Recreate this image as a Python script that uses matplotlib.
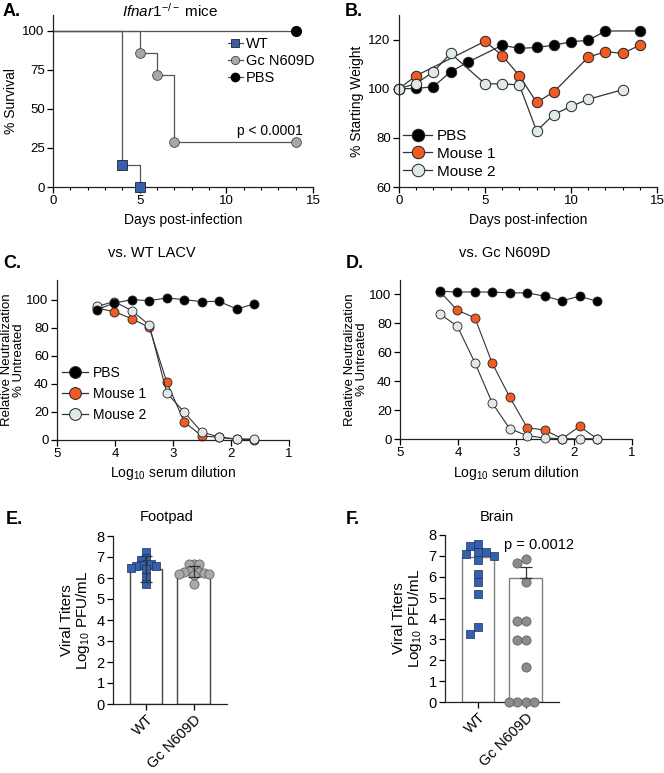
import matplotlib
matplotlib.use("Agg")
import matplotlib.pyplot as plt
from matplotlib.lines import Line2D
import numpy as np

plt.rcParams['font.family'] = ['Liberation Sans', 'DejaVu Sans']
plt.rcParams['mathtext.fontset'] = 'custom'
plt.rcParams['mathtext.rm'] = 'Liberation Sans'
plt.rcParams['mathtext.it'] = 'Liberation Sans:italic'
plt.rcParams['font.size'] = 9.5
plt.rcParams['axes.linewidth'] = 0.9
plt.rcParams['axes.edgecolor'] = '#222222'
plt.rcParams['xtick.major.width'] = 0.9
plt.rcParams['ytick.major.width'] = 0.9
plt.rcParams['xtick.major.size'] = 4
plt.rcParams['ytick.major.size'] = 4

# ---- data ----
# A: survival
surv_days_wt = [0, 4, 5]
surv_wt = [100, 14.3, 0]
surv_days_gc = [0, 5, 6, 7, 14]
surv_gc = [100, 85.7, 71.4, 28.6, 28.6]
surv_days_pbs = [0, 14]
surv_pbs = [100, 100]

# B: weight
weight_days_pbs = [0, 1, 2, 3, 4, 6, 7, 8, 9, 10, 11, 12, 14]
weight_pbs = [100, 100.1, 100.8, 106.9, 110.8, 117.7, 116.4, 116.8, 117.7, 119.1, 119.7, 123.5, 123.5]
weight_days_m1 = [0, 1, 5, 6, 7, 8, 9, 11, 12, 13, 14]
weight_m1 = [100, 105.3, 119.3, 113.5, 105.3, 94.4, 98.7, 112.8, 115.1, 114.4, 117.7]
weight_days_m2 = [0, 1, 2, 3, 5, 6, 7, 8, 9, 10, 11, 13]
weight_m2 = [100, 102.1, 106.9, 114.4, 102, 102, 101.5, 82.8, 89.5, 92.8, 95.7, 99.6]

# C/D: neutralization
dilutions = [20480, 10240, 5120, 2560, 1280, 640, 320, 160, 80, 40]
neut_c_pbs = [92.9, 97.6, 100, 99.3, 101.2, 100, 98.6, 98.8, 93.3, 96.9]
neut_c_m1 = [94, 91.4, 86.4, 80.2, 41.2, 12.9, 2.9, 1.9, 0.5, 0.3]
neut_c_m2 = [95.2, 98.6, 92.1, 81.9, 33.6, 19.8, 5.7, 2.1, 0.7, 0.7]
neut_d_pbs = [102.3, 101.6, 101.8, 101.6, 101.1, 101.1, 98.8, 95.6, 98.8, 95.2]
neut_d_m1 = [102, 89, 83.9, 52.3, 28.9, 7.8, 6.2, 0.2, 8.7, 0.2]
neut_d_m2 = [86.5, 78, 52.8, 24.8, 7.1, 2.3, 0.7, 0.2, 0.2, 0.2]

# E/F: titers
groups = ['WT', 'Gc N609D']
foot_wt = [7.22, 6.97, 6.88, 6.68, 6.65, 6.62, 6.58, 6.55, 6.5, 6.42, 6.05, 5.7]
foot_gc = [6.68, 6.65, 6.66, 6.40, 6.35, 6.30, 6.28, 6.22, 6.20, 6.18, 6.15, 5.72]
foot_bar = [6.45, 6.3]
foot_err = [0.62, 0.25]
brain_wt = [7.08, 7.46, 7.59, 6.99, 7.19, 7.19, 6.78, 6.14, 5.74, 5.15, 3.27, 3.57]
brain_gc = [6.83, 6.64, 5.73, 3.89, 3.89, 2.97, 2.97, 1.69, 0, 0, 0, 0]
brain_bar = [6.95, 5.95]
brain_err = [0.0, 0.52]

BLUE = '#3560ad'
GREY = '#a8a8a8'
DGREY = '#8c8c8c'
ORANGE = '#f15a22'
LIGHT = '#dfe9e9'
EDGE = '#222222'

W, H = 664, 773
fig = plt.figure(figsize=(W / 100, H / 100), dpi=100)


def axes_px(x0, y0, x1, y1):
    return fig.add_axes([x0 / W, 1 - y1 / H, (x1 - x0) / W, (y1 - y0) / H])


def prism(ax):
    ax.spines['top'].set_visible(False)
    ax.spines['right'].set_visible(False)
    ax.tick_params(labelsize=9.5, pad=2)


def swarm(values, center, px_x, px_y, dist):
    # greedy beeswarm in pixel space, offsets closest to the centre first
    order = np.argsort(values)[::-1]
    placed = []
    xs = np.zeros(len(values))
    steps = [0]
    for k in range(1, 16):
        steps += [k * 0.5, -k * 0.5] if k % 2 else [-k * 0.5, k * 0.5]
    for i in order:
        y = values[i] * px_y
        for s in steps:
            x = s * dist
            if all((x - px) ** 2 + (y - py) ** 2 >= dist ** 2 for px, py in placed):
                break
        placed.append((x, y))
        xs[i] = center + x / px_x
    return xs


# ---- A ----
ax = axes_px(53, 15, 313, 187)
prism(ax)
ln = dict(color='#555555', lw=0.9, zorder=1)
ax.step(surv_days_pbs, surv_pbs, where='post', **ln)
ax.step(surv_days_gc, surv_gc, where='post', **ln)
ax.step(surv_days_wt, surv_wt, where='post', **ln)
ax.plot(surv_days_wt[1:], surv_wt[1:], 's', ms=6.5, mfc=BLUE, mec=EDGE, mew=0.6, clip_on=False, zorder=3)
ax.plot(surv_days_gc[1:], surv_gc[1:], 'o', ms=7, mfc=GREY, mec='#444444', mew=0.6, clip_on=False, zorder=3)
ax.plot(surv_days_pbs[1:], surv_pbs[1:], 'o', ms=7, mfc='black', mec='black', clip_on=False, zorder=3)
ax.set_xlim(0, 15)
ax.set_ylim(0, 110)
ax.set_xticks([0, 5, 10, 15])
ax.set_xticks(range(16), minor=True)
ax.tick_params(axis='x', which='minor', length=2.5, width=0.8)
ax.set_yticks([0, 25, 50, 75, 100])
ax.set_xlabel('Days post-infection', fontsize=10, labelpad=4)
ax.set_ylabel('% Survival', fontsize=10, labelpad=3)
ax.text(14.4, 36, 'p < 0.0001', ha='right', va='center', fontsize=10)
fig.text(170 / W, 1 - 11 / H, r'$\it{Ifnar1}^{-/-}$ mice', ha='center', va='center', fontsize=11)
hs = [Line2D([], [], color='#555555', lw=0.9, marker='s', ms=5.5, mfc=BLUE, mec=EDGE, mew=0.6),
      Line2D([], [], color='#555555', lw=0.9, marker='o', ms=6, mfc=GREY, mec='#444444', mew=0.6),
      Line2D([], [], color='#555555', lw=0.9, marker='o', ms=6, mfc='black', mec='black')]
ax.legend(hs, ['WT', 'Gc N609D', 'PBS'], loc='upper left', bbox_to_anchor=(228 / W, 1 - 37 / H),
          bbox_transform=fig.transFigure, frameon=False, fontsize=10.5, handlelength=1.0,
          handletextpad=0.25, labelspacing=0.2, borderpad=0, borderaxespad=0)
fig.text(3 / W, 1 - 11 / H, 'A.', fontsize=13, fontweight='bold', va='center')

# ---- B ----
ax = axes_px(399, 15, 657, 187)
prism(ax)
kw = dict(lw=0.9, color='#333333', ms=7.5, mec=EDGE, mew=0.7, clip_on=False)
ax.plot(weight_days_pbs, weight_pbs, 'o-', mfc='black', **kw)
ax.plot(weight_days_m1, weight_m1, 'o-', mfc=ORANGE, **kw)
ax.plot(weight_days_m2, weight_m2, 'o-', mfc=LIGHT, **kw)
ax.set_xlim(0, 15)
ax.set_ylim(60, 130)
ax.set_xticks([0, 5, 10, 15])
ax.set_xticks(range(16), minor=True)
ax.tick_params(axis='x', which='minor', length=2.5, width=0.8)
ax.set_yticks([60, 80, 100, 120])
ax.set_xlabel('Days post-infection', fontsize=10, labelpad=4)
ax.set_ylabel('% Starting Weight', fontsize=10, labelpad=3)
hs = [Line2D([], [], color='#333333', lw=0.9, marker='o', ms=9, mfc=c, mec=EDGE, mew=0.7)
      for c in ['black', ORANGE, LIGHT]]
ax.legend(hs, ['PBS', 'Mouse 1', 'Mouse 2'], loc='upper left', bbox_to_anchor=(403 / W, 1 - 129 / H),
          bbox_transform=fig.transFigure, frameon=False, fontsize=11, handlelength=1.9,
          handletextpad=0.3, labelspacing=0.25, borderpad=0, borderaxespad=0)
fig.text(345 / W, 1 - 11 / H, 'B.', fontsize=13, fontweight='bold', va='center')

# ---- C & D ----
logdil = np.log10(dilutions)
panels = [((57, 280, 289, 440), 114, neut_c_pbs, neut_c_m1, neut_c_m2, 'vs. WT LACV', 152, 'C.', 3),
          ((400, 280, 632, 439), 110, neut_d_pbs, neut_d_m1, neut_d_m2, 'vs. Gc N609D', 505, 'D.', 346)]
for box, ytop, pbs, m1, m2, title, tx, lab, lx in panels:
    ax = axes_px(*box)
    prism(ax)
    kw = dict(lw=0.8, color='#333333', ms=6.5, mec=EDGE, mew=0.6, clip_on=False)
    ax.plot(logdil, m1, 'o-', mfc=ORANGE, zorder=2, **kw)
    ax.plot(logdil, m2, 'o-', mfc=LIGHT, zorder=3, **kw)
    ax.plot(logdil, pbs, 'o-', mfc='black', zorder=4, **kw)
    ax.set_xlim(5, 1)
    ax.set_ylim(0, ytop)
    ax.set_xticks([5, 4, 3, 2, 1])
    ax.set_yticks([0, 20, 40, 60, 80, 100])
    ax.set_xlabel(r'Log$_{10}$ serum dilution', fontsize=10, labelpad=3)
    ax.set_ylabel('Relative Neutralization\n% Untreated', fontsize=9.5, labelpad=1, linespacing=1.0)
    fig.text(tx / W, 1 - 253 / H, title, ha='center', va='center', fontsize=10.5)
    fig.text(lx / W, 1 - 263 / H, lab, fontsize=13, fontweight='bold', va='center')
    if lab == 'C.':
        hs = [Line2D([], [], color='#333333', lw=0.9, marker='o', ms=8.5, mfc=c, mec=EDGE, mew=0.7)
              for c in ['black', ORANGE, LIGHT]]
        ax.legend(hs, ['PBS', 'Mouse 1', 'Mouse 2'], loc='upper left', bbox_to_anchor=(62 / W, 1 - 366 / H),
                  bbox_transform=fig.transFigure, frameon=False, fontsize=10, handlelength=1.9,
                  handletextpad=0.3, labelspacing=0.5, borderpad=0, borderaxespad=0)

# ---- E & F ----
bar_panels = [((113, 536, 227, 704), foot_wt, foot_gc, foot_bar, foot_err, 'Footpad', 167, 'E.', 6, '#444444', GREY, None, 5.0),
              ((445, 535, 559, 702), brain_wt, brain_gc, brain_bar, brain_err, 'Brain', 497, 'F.', 346, '#808080', DGREY, 'p = 0.0012', 8.2)]
for box, wt, gc, bars, err, title, tx, lab, lx, bedge, gcol, ptxt, dist in bar_panels:
    ax = axes_px(*box)
    prism(ax)
    xs = [0, 1]
    ax.bar(xs, bars, width=0.68, color='white', edgecolor=bedge, linewidth=1.0, zorder=1)
    ax.set_xlim(-0.69, 1.7)
    ax.set_ylim(0, 8)
    px_x = (box[2] - box[0]) / 2.39
    px_y = (box[3] - box[1]) / 8
    ax.scatter(swarm(np.array(wt), 0, px_x, px_y, dist), wt, marker='s', s=36, c=BLUE, edgecolors='#1d2f5a',
               linewidths=0.5, zorder=3, clip_on=False)
    ax.scatter(swarm(np.array(gc), 1, px_x, px_y, dist), gc, marker='o', s=44, c=gcol, edgecolors='#555555',
               linewidths=0.5, zorder=3, clip_on=False)
    for x, b, e in zip(xs, bars, err):
        if e > 0:
            lo = e if lab == 'E.' else 0
            ax.errorbar(x, b, yerr=[[lo], [e]], fmt='none', ecolor='#333333', elinewidth=0.9,
                        capsize=4, capthick=0.9, zorder=4)
    ax.set_xticks(xs)
    ax.set_xticklabels(groups, rotation=45, ha='right', rotation_mode='anchor', fontsize=10.5)
    ax.set_yticks(range(9))
    ax.tick_params(axis='y', labelsize=10.5)
    ax.set_ylabel('Viral Titers\n' + r'Log$_{10}$ PFU/mL', fontsize=11, labelpad=3, linespacing=1.05)
    fig.text(tx / W, 1 - 517 / H, title, ha='center', va='center', fontsize=10.5)
    fig.text(lx / W, 1 - 520 / H, lab, fontsize=13, fontweight='bold', va='center')
    if ptxt:
        ax.text(0.55, 7.5, ptxt, ha='left', va='center', fontsize=10.5)

fig.savefig('out.png', dpi=100)
